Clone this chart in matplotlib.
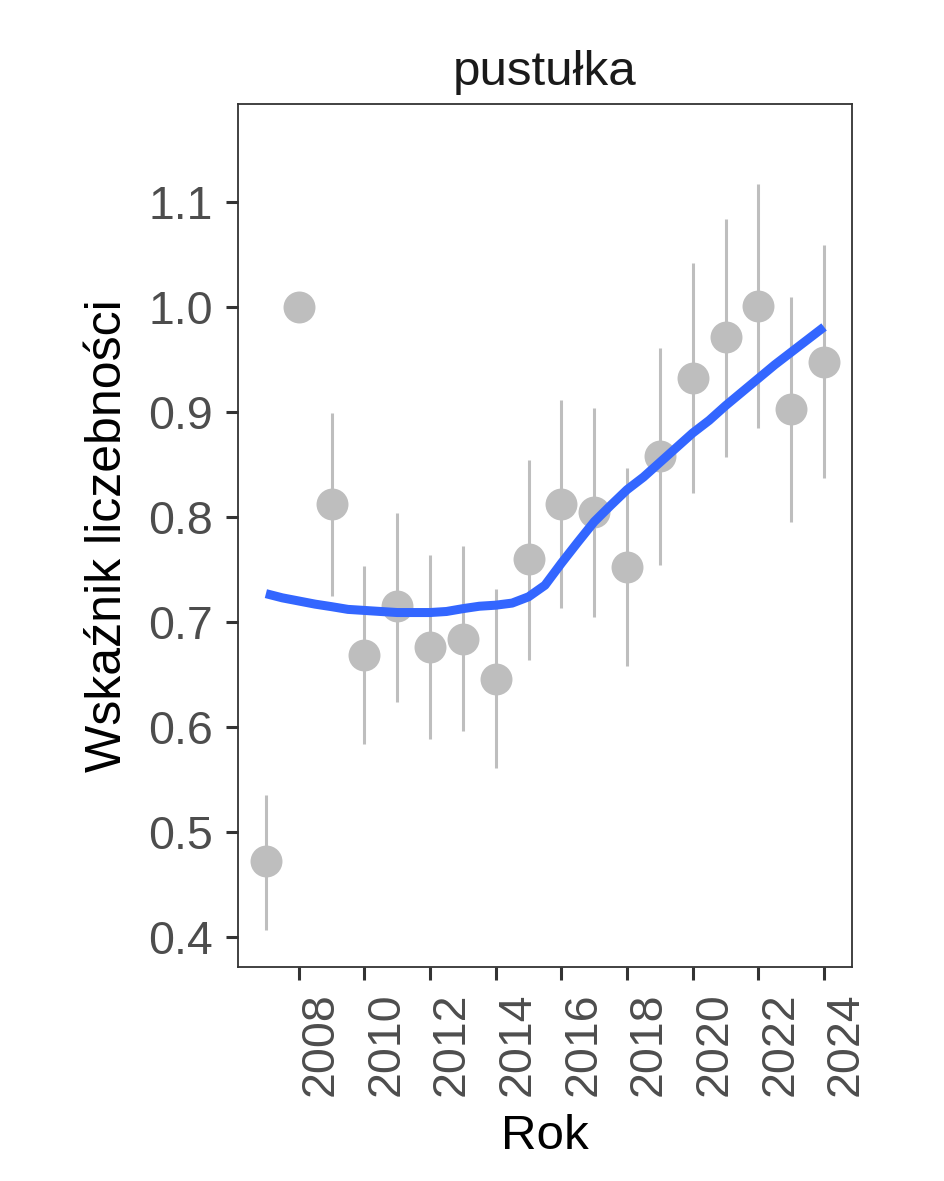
import numpy as np
import matplotlib
matplotlib.use("Agg")
import matplotlib.pyplot as plt

plt.rcParams['font.family'] = ['Liberation Sans', 'DejaVu Sans']

# data
years = [2007, 2008, 2009, 2010, 2011, 2012, 2013, 2014, 2015,
         2016, 2017, 2018, 2019, 2020, 2021, 2022, 2023, 2024]
index = [0.472, 1.000, 0.812, 0.669, 0.715, 0.676, 0.684, 0.646, 0.760,
         0.812, 0.805, 0.752, 0.858, 0.932, 0.971, 1.001, 0.903, 0.948]
lower = [0.407, np.nan, 0.725, 0.584, 0.624, 0.589, 0.596, 0.561, 0.664,
         0.713, 0.705, 0.658, 0.754, 0.823, 0.857, 0.885, 0.795, 0.837]
upper = [0.535, np.nan, 0.899, 0.753, 0.804, 0.764, 0.772, 0.731, 0.854,
         0.911, 0.904, 0.847, 0.961, 1.042, 1.084, 1.117, 1.010, 1.059]

# loess curve, read every half year
smooth_x = [2007, 2007.5, 2008, 2008.5, 2009, 2009.5, 2010, 2010.5, 2011, 2011.5,
            2012, 2012.5, 2013, 2013.5, 2014, 2014.5, 2015, 2015.5, 2016, 2016.5,
            2017, 2017.5, 2018, 2018.5, 2019, 2019.5, 2020, 2020.5, 2021, 2021.5,
            2022, 2022.5, 2023, 2023.5, 2024]
smooth_y = [0.727, 0.723, 0.720, 0.717, 0.7146, 0.712, 0.711, 0.710, 0.709, 0.709,
            0.709, 0.710, 0.7127, 0.715, 0.716, 0.718, 0.724, 0.735, 0.756, 0.776,
            0.7955, 0.811, 0.826, 0.838, 0.852, 0.866, 0.880, 0.892, 0.906, 0.919,
            0.932, 0.945, 0.957, 0.969, 0.981]

xticks = [2008, 2010, 2012, 2014, 2016, 2018, 2020, 2022, 2024]
yticks = [0.4, 0.5, 0.6, 0.7, 0.8, 0.9, 1.0, 1.1]

fig = plt.figure(figsize=(9.44, 11.81), dpi=100)
ax = fig.add_axes([0.2521, 0.1812, 0.6504, 0.7307])

grey = '#BEBEBE'
ax.vlines(years, lower, upper, color=grey, linewidth=2.2, zorder=1)
ax.plot(years, index, 'o', color=grey, markersize=23, markeredgewidth=0, zorder=2)
ax.plot(smooth_x, smooth_y, color='#3366FF', linewidth=6.5,
        solid_capstyle='butt', solid_joinstyle='round', zorder=3)

ax.set_xlim(2006.15, 2024.85)
ax.set_ylim(0.3714, 1.1933)
ax.set_xticks(xticks)
ax.set_yticks(yticks)
# ggplot-style rotated labels sit just right of the tick
ax.set_xticklabels([str(t) for t in xticks], rotation=90, ha='left')
ax.set_yticklabels(['%.1f' % t for t in yticks])

ax.tick_params(axis='both', labelsize=33.5, labelcolor='#4D4D4D', color='#333333',
               length=9, width=2.2, pad=9)
for s in ax.spines.values():
    s.set_color('#333333')
    s.set_linewidth(1.3)

ax.set_xlabel('Rok', fontsize=35.5, color='black', labelpad=13)
ax.set_ylabel('Wskaźnik liczebności', fontsize=36, color='black', labelpad=12)
ax.set_title('pustułka', fontsize=35.5, color='#1A1A1A', pad=14)

fig.savefig('out.png', dpi=100, facecolor='white')
